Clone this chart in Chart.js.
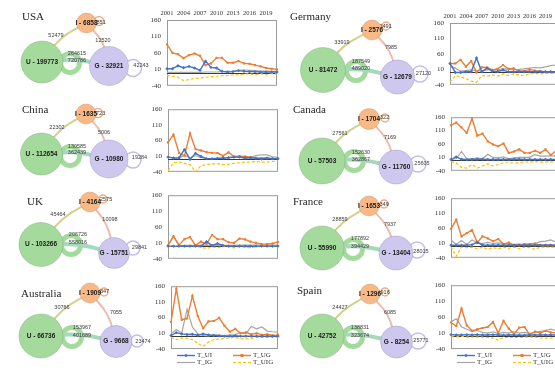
<!DOCTYPE html>
<html lang="en">
<head>
<meta charset="UTF-8">
<title>Country networks and trends</title>
<script src="https://cdn.jsdelivr.net/npm/chart.js@4.4.1/dist/chart.umd.min.js"></script>
<style>
    html, body { margin: 0; padding: 0; background: #fff; overflow: hidden; }
    #wrap { position: relative; width: 555px; height: 371px; overflow: hidden; }
    #wrap canvas { position: absolute; }
</style>
</head>
<body>
<div id="wrap">
    <canvas id="net" width="555" height="371" style="left:0;top:0;width:555px;height:371px"></canvas>
</div>
<script>
    // ---- data ----
    const years = ['2001', '2002', '2003', '2004', '2005', '2006', '2007', '2008', '2009', '2010', '2011',
        '2012', '2013', '2014', '2015', '2016', '2017', '2018', '2019', '2020', '2021'];
    const countries = ['USA', 'China', 'UK', 'Australia', 'Germany', 'Canada', 'France', 'Spain'];

    const nodeU = [199773, 112654, 103266, 66736, 81472, 57503, 55990, 42752];
    const nodeI = [6858, 1635, 4164, 1909, 2576, 1704, 1653, 1296];
    const nodeG = [32921, 10980, 15751, 9668, 12679, 11760, 13404, 8254];
    const edgeUI = [52479, 22302, 45464, 30766, 33919, 27561, 28859, 24427];
    const edgeIG = [12520, 5006, 10098, 7055, 7985, 7169, 7937, 6085];
    const edgeUG = [264615, 130585, 206726, 153967, 187549, 152630, 177892, 138831];
    const loopU = [720786, 362439, 558016, 401689, 489020, 362867, 394429, 323674];
    const loopG = [42243, 19284, 29841, 23474, 27120, 25605, 28015, 25771];
    const loopI = [2851, 1723, 2575, 1347, 2491, 1322, 1349, 1916];

    const seriesNames = ['T_UI', 'T_UG', 'T_IG', 'T_UIG'];

    const usaUI = [12, 12, 21, 15, 19, 14, 7, 35, 16, 14, 4, 2, 3, 6, 4, 3, 3, 2, 2, 2, 2];
    const usaUG = [86, 60, 56, 44, 53, 58, 51, 23, 28, 45, 45, 30, 30, 35, 28, 27, 23, 19, 14, 12, 10];
    const usaIG = [1, 1, 1, 1, 1, 1, 1, 2, 2, 2, 3, 4, 5, 7, 8, 7, 6, 5, 5, 4, 4];
    const usaUIG = [-9, -11, -14, -24, -21, -18, -16, -14, -12, -11, -9, -9, -7, -7, -5, -3, -7, -3, -7, -3, -4];

    const chinaUI = [7, 4, 5, 31, 0, 19, 9, 2, 2, 3, 4, 5, 7, 7, 4, 5, 3, 1, 3, 2, 2];
    const chinaUG = [54, 79, 20, 11, 83, 32, 28, 23, 21, 20, 11, 22, 9, 10, 9, 7, 5, 4, 5, 2, 3];
    const chinaIG = [8, 4, 3, 14, 5, 12, 5, 3, 2, 3, 4, 6, 8, 6, 5, 6, 12, 14, 14, 8, 6];
    const chinaUIG = [-36, -11, -9, -13, -17, -40, -20, -17, -15, -14, -17, -16, -13, -11, -9, -9, -7, -9, -9, -7, -7];

    const ukUI = [0, 0, 0, 0, 0, 0, 0, 14, 2, 8, 2, 0, 0, 0, 0, 0, 0, 0, 0, 0, 0];
    const ukUG = [2, 31, 3, 22, 28, 2, 14, 6, 35, 22, 22, 12, 10, 24, 21, 14, 10, 6, 6, 8, 13];
    const ukIG = [1, 30, 1, 2, 2, 2, 2, 2, 2, 2, 2, 2, 2, 3, 3, 3, 3, 3, 3, 3, 3];
    const ukUIG = [-2, -2, -2, -2, -2, -2, -3, -8, -3, -5, -2, -2, -6, -2, -3, -6, -2, -2, -2, -2, -2];

    const ausUI = [3, 12, 8, 6, 7, 4, 8, 5, 3, 2, 1, 1, 2, 1, 1, 1, 1, 1, 1, 1, 1];
    const ausUG = [46, 152, 53, 57, 129, 65, 26, 48, 49, 59, 34, 15, 24, 10, 13, 7, 10, 5, 7, 3, 5];
    const ausIG = [8, 22, 10, 87, 30, 8, 3, 2, 6, 4, 3, 5, 6, 13, 8, 32, 24, 30, 17, 15, 14];
    const ausUIG = [-3, -10, -5, -6, -10, -22, -32, -18, -10, -8, -6, -4, -3, -8, -8, -6, -3, -3, -3, -3, -3];

    const deUI = [29, 0, 0, 2, 2, 47, 2, 14, 4, 3, 8, 2, 2, 3, 2, 2, 2, 3, 2, 2, 2];
    const deUG = [29, 29, 41, 19, 37, 0, 17, 16, 8, 12, 24, 12, 13, 5, 5, 10, 6, 4, 2, 2, 2];
    const deIG = [20, 14, 4, 6, 8, 6, 5, 8, 10, 8, 12, 10, 9, 10, 12, 14, 16, 15, 18, 22, 24];
    const deUIG = [-32, -10, -14, -20, -28, -32, -10, -12, -8, -12, -5, -10, -5, -8, -10, -5, -3, -5, -3, -3, -3];

    const caUI = [2, 12, 3, 2, 2, 3, 3, 2, 2, 2, 2, 2, 3, 3, 2, 2, 2, 2, 2, 2, 2];
    const caUG = [130, 140, 122, 101, 155, 91, 99, 70, 58, 52, 62, 27, 32, 40, 27, 27, 35, 27, 40, 19, 35];
    const caIG = [3, 5, 32, 5, 5, 8, 5, 22, 10, 8, 12, 5, 8, 10, 10, 10, 20, 15, 15, 16, 16];
    const caUIG = [-6, -11, -27, -30, -17, -30, -22, -14, -22, -17, -10, -10, -11, -10, -7, -8, -6, -8, -7, -7, -7];

    const frUI = [2, 2, 2, 2, 4, 12, 3, 2, 2, 2, 2, 2, 2, 2, 2, 2, 2, 2, 2, 2, 2];
    const frUG = [57, 88, 32, 43, 53, 11, 32, 25, 16, 23, 6, 11, 2, 2, 6, 6, 8, 2, 2, 2, 2];
    const frIG = [20, 5, 18, 5, 20, 10, 8, 12, 8, 10, 8, 6, 5, 6, 5, 6, 8, 14, 16, 20, 12];
    const frUIG = [-3, -35, -4, -6, -4, -10, -4, -12, -6, -10, -4, -8, -4, -10, -4, -6, -12, -4, -4, -4, -4];

    const esUI = [5, 4, 4, 5, 4, 5, 4, 4, 5, 4, 3, 4, 4, 3, 3, 4, 4, 4, 4, 4, 4];
    const esUG = [43, 32, 87, 34, 17, 22, 26, 29, 45, 10, 48, 24, 7, 27, 29, 5, 15, 10, 17, 12, 10];
    const esIG = [45, 55, 30, 22, 15, 18, 12, 10, 14, 8, 12, 10, 14, 10, 12, 8, 12, 15, 18, 22, 18];
    const esUIG = [-2, -2, 0, -3, -3, -3, -3, -4, -6, -12, -4, -4, -4, -4, -3, -3, -3, -5, -6, -6, -4];

    const trends = {
        USA: [usaUI, usaUG, usaIG, usaUIG],
        China: [chinaUI, chinaUG, chinaIG, chinaUIG],
        UK: [ukUI, ukUG, ukIG, ukUIG],
        Australia: [ausUI, ausUG, ausIG, ausUIG],
        Germany: [deUI, deUG, deIG, deUIG],
        Canada: [caUI, caUG, caIG, caUIG],
        France: [frUI, frUG, frIG, frUIG],
        Spain: [esUI, esUG, esIG, esUIG]
    };

    // ---- layout of the network drawings (pixels) ----
    // node/loop: [x, y, r]; text spots: [x, y]
    const nets = {
        USA:       {title: [22, 20],  I: [86.5, 23, 10], U: [42, 62, 21],   G: [109, 66, 19.5],  lI: [99, 21, 4.5],  lU: [70, 63, 9.5],  lG: [133, 68, 8.5],
                    tUI: [56, 35],   tIG: [103, 40],  tUG: [77, 53],   tLU: [77, 60.5],  tLG: [141, 65],  tLI: [93.5, 22]},
        China:     {title: [22, 113], I: [86, 114, 10],  U: [41.5, 154, 21], G: [109, 159, 19],  lI: [98, 113, 4.5], lU: [70, 156, 9.5], lG: [133, 160, 8],
                    tUI: [57, 127],  tIG: [104, 132], tUG: [77, 146],  tLU: [77, 152.5], tLG: [139.5, 157], tLI: [93, 113]},
        UK:        {title: [27, 205], I: [90, 202, 10],  U: [41, 244.5, 22], G: [114, 253, 15.5], lI: [103, 199, 4], lU: [71, 245, 9.5], lG: [133, 248, 7],
                    tUI: [58, 214],  tIG: [110, 219], tUG: [78, 234],  tLU: [78, 242],   tLG: [139.5, 247], tLI: [100, 199]},
        Australia: {title: [21, 297], I: [90, 293, 10],  U: [41, 336, 22],  G: [116, 341.5, 16], lI: [104, 292, 4], lU: [72, 337, 9.5], lG: [137, 341, 6],
                    tUI: [62, 307],  tIG: [116, 312], tUG: [82, 327],  tLU: [82, 335],   tLG: [143, 341], tLI: [97, 291]},
        Germany:   {title: [290, 20], I: [372, 30, 10],  U: [323, 70, 22.5], G: [397.5, 77, 17], lI: [386, 26, 4], lU: [356, 71, 9.5], lG: [420, 74, 8],
                    tUI: [342, 42],  tIG: [391, 47],  tUG: [361, 61],  tLU: [361, 68],   tLG: [423.5, 73], tLI: [379.5, 26]},
        Canada:    {title: [293, 113], I: [369, 119, 10.5], U: [322, 161, 23], G: [396, 167, 17], lI: [385, 118, 4], lU: [354, 161, 9.5], lG: [418, 164, 8],
                    tUI: [340, 133], tIG: [390, 137], tUG: [361, 152], tLU: [361, 159],  tLG: [422, 163], tLI: [377, 117]},
        France:    {title: [293, 205], I: [369, 206, 10], U: [322, 248, 22], G: [396, 253, 17],  lI: [384, 204, 4], lU: [353, 249, 9.5], lG: [417, 250, 8],
                    tUI: [340, 219], tIG: [390, 224], tUG: [360, 238], tLU: [360, 246],  tLG: [421, 251], tLI: [376.5, 204]},
        Spain:     {title: [297, 294], I: [370, 294, 10], U: [322, 336, 22], G: [396.5, 342, 16], lI: [385, 292, 4], lU: [353, 337, 9.5], lG: [418, 341, 8],
                    tUI: [340, 307], tIG: [390, 312], tUG: [360, 327], tLU: [360, 335],  tLG: [421, 340], tLI: [377.5, 292]}
    };

    // plot rectangles of the small line charts: [left, top, right, bottom]
    const plots = {
        USA: [167, 20, 277, 91], China: [168, 103, 278, 177], UK: [168, 189, 278, 264], Australia: [171, 280, 278, 349],
        Germany: [450, 23, 556, 90], Canada: [451, 111, 556, 176], France: [451, 192, 556, 263], Spain: [451, 279, 556, 349]
    };
    const withYears = ['USA', 'Germany'];
    const withKey = ['Australia', 'Spain'];

    Chart.defaults.font.family = '"Liberation Serif", serif';
    Chart.defaults.color = '#333';

    // ---- network drawing ----
    const fillU = 'rgb(164, 219, 156)', fillI = 'rgb(248, 185, 134)', fillG = 'rgb(207, 200, 238)';

    const netSets = [];
    const edgeKinds = [['U', 'I', 5, 'rgb(212, 208, 140)', 2], ['I', 'G', 5, 'rgb(236, 188, 172)', 2], ['U', 'G', 4, 'rgb(166, 216, 186)', 4]];
    countries.forEach(c => {
        const n = nets[c];
        edgeKinds.forEach(([a, b, k, col, w]) => {
            const A = n[a], B = n[b];
            const dx = B[0] - A[0], dy = B[1] - A[1], len = Math.hypot(dx, dy);
            const mid = {x: (A[0] + B[0]) / 2 + k * dy / len, y: (A[1] + B[1]) / 2 - k * dx / len};
            netSets.push({
                type: 'line', data: [{x: A[0], y: A[1]}, mid, {x: B[0], y: B[1]}],
                borderColor: col, borderWidth: w, tension: 0.45, pointRadius: 0, order: 2
            });
        });
    });
    const bubbles = (key, fill, line, lw, ord, role) => ({
        type: 'bubble', role: role,
        data: countries.map(c => ({x: nets[c][key][0], y: nets[c][key][1], r: nets[c][key][2]})),
        backgroundColor: fill, borderColor: line, borderWidth: lw, order: ord
    });
    netSets.push(bubbles('lU', 'rgba(0,0,0,0)', fillU, 5, 3));
    netSets.push(bubbles('lG', 'rgba(0,0,0,0)', 'rgb(196, 188, 234)', 1.5, 3));
    netSets.push(bubbles('lI', 'rgba(0,0,0,0)', 'rgb(244, 172, 120)', 1.5, 3));
    netSets.push(bubbles('U', fillU, 'rgba(110, 150, 110, 0.6)', 0.6, 1, 'node'));
    netSets.push(bubbles('G', fillG, 'rgba(140, 130, 180, 0.6)', 0.6, 1, 'node'));
    netSets.push(bubbles('I', fillI, 'rgba(190, 130, 90, 0.6)', 0.6, 1, 'nodeI'));

    const netText = {
        id: 'netText',
        beforeDatasetDraw(chart, args) {
            // self-loop numbers of I sit partly under the I circles
            if (chart.data.datasets[args.index].role !== 'nodeI') return;
            const {ctx, scales: {x, y}} = chart;
            ctx.save();
            ctx.font = '5.5px "Liberation Sans"';
            ctx.fillStyle = '#333';
            ctx.textAlign = 'left';
            ctx.textBaseline = 'middle';
            countries.forEach((c, i) => {
                const p = nets[c].tLI;
                ctx.fillText(String(loopI[i]), x.getPixelForValue(p[0]), y.getPixelForValue(p[1]));
            });
            ctx.restore();
        },
        afterDatasetsDraw(chart) {
            const {ctx, scales: {x, y}} = chart;
            const put = (p, txt) => ctx.fillText(txt, x.getPixelForValue(p[0]), y.getPixelForValue(p[1]));
            ctx.save();
            ctx.fillStyle = '#262626';
            ctx.font = '11px "Liberation Serif"';
            ctx.textAlign = 'left';
            ctx.textBaseline = 'alphabetic';
            countries.forEach(c => put(nets[c].title, c));

            ctx.textAlign = 'center';
            ctx.textBaseline = 'middle';
            ctx.fillStyle = '#1a1a1a';
            ctx.font = 'bold 6.5px "Liberation Sans"';
            countries.forEach((c, i) => {
                const n = nets[c];
                put(n.I, 'I - ' + nodeI[i]);
                put(n.U, 'U - ' + nodeU[i]);
                put(n.G, 'G - ' + nodeG[i]);
            });

            ctx.fillStyle = '#3a3a3a';
            ctx.font = '5.5px "Liberation Sans"';
            countries.forEach((c, i) => {
                const n = nets[c];
                put(n.tUI, String(edgeUI[i]));
                put(n.tIG, String(edgeIG[i]));
                put(n.tUG, String(edgeUG[i]));
                put(n.tLU, String(loopU[i]));
                put(n.tLG, String(loopG[i]));
            });
            ctx.restore();
        }
    };

    new Chart(document.getElementById('net'), {
        type: 'bubble',
        data: {datasets: netSets},
        options: {
            responsive: false,
            animation: false,
            events: [],
            devicePixelRatio: 1,
            layout: {padding: 0, autoPadding: false},
            plugins: {legend: {display: false}, tooltip: {enabled: false}},
            scales: {
                x: {type: 'linear', min: 0, max: 555, display: false},
                y: {type: 'linear', min: 0, max: 371, reverse: true, display: false}
            }
        },
        plugins: [netText]
    });

    // ---- small trend charts ----
    const styles = [
        {color: '#4472C4', width: 1.4, point: 'rectRot', r: 1.7, dash: []},
        {color: '#ED7D31', width: 1.4, point: 'rect', r: 1.5, dash: []},
        {color: '#A5A5A5', width: 1.2, point: 'circle', r: 0, dash: []},
        {color: '#FFC000', width: 1.2, point: 'circle', r: 0, dash: [3, 2]}
    ];

    const frame = {
        id: 'frame',
        beforeDatasetsDraw(chart) {
            const {ctx, chartArea: a, scales: {y}} = chart;
            ctx.save();
            ctx.strokeStyle = '#9a9a9a';
            ctx.lineWidth = 1;
            ctx.strokeRect(a.left + 0.5, a.top + 0.5, a.width - 1, a.height - 1);
            const y0 = Math.round(y.getPixelForValue(0)) + 0.5;
            ctx.strokeStyle = '#3a3a3a';
            ctx.lineWidth = 1.2;
            ctx.beginPath();
            ctx.moveTo(a.left, y0);
            ctx.lineTo(a.right, y0);
            ctx.stroke();
            ctx.restore();
        }
    };

    const keyBox = {
        id: 'keyBox',
        afterDraw(chart, args, opts) {
            if (!opts.show) return;
            const {ctx, chartArea: a} = chart;
            ctx.save();
            ctx.font = '7px "Liberation Serif"';
            ctx.textBaseline = 'middle';
            chart.data.datasets.forEach((ds, i) => {
                const x = a.left + 6 + (i % 2) * 56;
                const y = a.bottom + 6.5 + Math.floor(i / 2) * 7;
                ctx.strokeStyle = ds.borderColor;
                ctx.lineWidth = ds.borderWidth;
                ctx.setLineDash(ds.borderDash);
                ctx.beginPath();
                ctx.moveTo(x, y);
                ctx.lineTo(x + 18, y);
                ctx.stroke();
                ctx.setLineDash([]);
                ctx.fillStyle = ds.borderColor;
                if (ds.pointRadius > 0) {
                    const r = ds.pointRadius;
                    ctx.beginPath();
                    if (ds.pointStyle === 'rect') {
                        ctx.rect(x + 9 - r, y - r, 2 * r, 2 * r);
                    } else {
                        ctx.moveTo(x + 9, y - r); ctx.lineTo(x + 9 + r, y); ctx.lineTo(x + 9, y + r); ctx.lineTo(x + 9 - r, y);
                        ctx.closePath();
                    }
                    ctx.fill();
                }
                ctx.fillStyle = '#333';
                ctx.fillText(ds.label, x + 20, y);
            });
            ctx.restore();
        }
    };

    const wrap = document.getElementById('wrap');

    countries.forEach(c => {
        const [x0, y0, x1, y1] = plots[c];
        const top = withYears.includes(c), key = withKey.includes(c);
        const YW = 22, R = 2, PT = 4, XH = top ? 11 : 0, PB = key ? 20 : 5;
        const w = (x1 - x0) + YW + R, h = (y1 - y0) + PT + XH + PB;
        const cv = document.createElement('canvas');
        cv.width = w;
        cv.height = h;
        cv.style.left = (x0 - YW) + 'px';
        cv.style.top = (y0 - PT - XH) + 'px';
        cv.style.width = w + 'px';
        cv.style.height = h + 'px';
        wrap.appendChild(cv);

        new Chart(cv, {
            type: 'line',
            data: {
                labels: years,
                datasets: trends[c].map((vals, i) => ({
                    label: seriesNames[i],
                    data: vals,
                    borderColor: styles[i].color,
                    backgroundColor: styles[i].color,
                    borderWidth: styles[i].width,
                    borderDash: styles[i].dash,
                    pointStyle: styles[i].point,
                    pointRadius: styles[i].r,
                    pointBorderWidth: 0,
                    tension: 0
                }))
            },
            options: {
                responsive: false,
                animation: false,
                events: [],
                devicePixelRatio: 1,
                layout: {padding: {left: 0, right: R, top: PT, bottom: PB}, autoPadding: false},
                plugins: {legend: {display: false}, tooltip: {enabled: false}, keyBox: {show: key}},
                scales: {
                    x: {
                        position: 'top',
                        display: top,
                        offset: false,
                        grid: {display: false, drawTicks: false, tickLength: 0},
                        border: {display: false},
                        afterFit: s => { s.height = XH; },
                        ticks: {
                            autoSkip: false, maxRotation: 0, padding: 3,
                            font: {size: 6.5},
                            callback: function (v, i) { return i % 3 === 0 ? this.getLabelForValue(v) : null; }
                        }
                    },
                    y: {
                        min: -40, max: 160,
                        grid: {display: false, drawTicks: false, tickLength: 0},
                        border: {display: false},
                        afterFit: s => { s.width = YW; },
                        ticks: {stepSize: 50, padding: 6, font: {size: 7}}
                    }
                }
            },
            plugins: [frame, keyBox]
        });
    });
</script>
</body>
</html>
